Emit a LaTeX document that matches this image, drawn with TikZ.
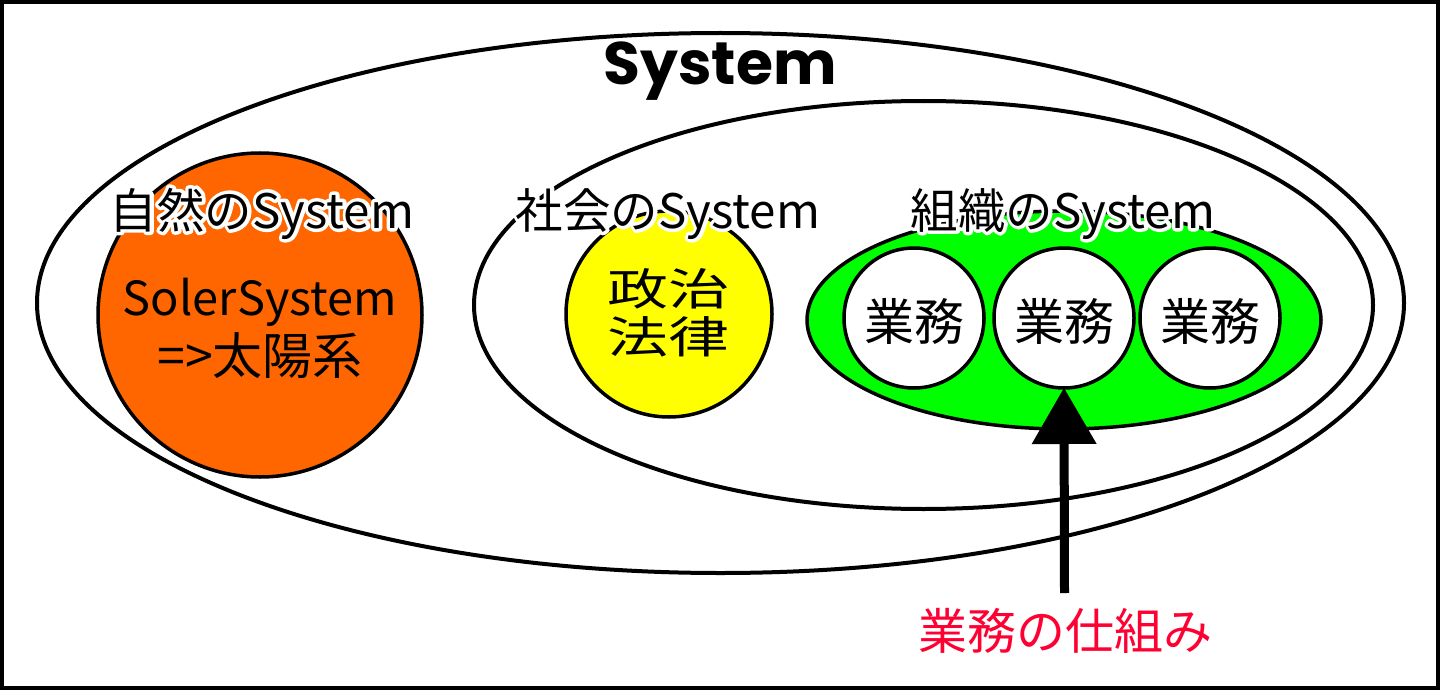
\documentclass[tikz,border=0pt]{standalone}
\usepackage{fontspec}
\setmainfont{Noto Sans CJK JP}
\newfontfamily\titlefont{Poppins}
\usetikzlibrary{shapes.geometric,arrows.meta}
\definecolor{sysorange}{RGB}{255,102,0}
\definecolor{sysyellow}{RGB}{255,255,0}
\definecolor{sysgreen}{RGB}{0,255,0}
\definecolor{sysred}{RGB}{255,0,51}
% white outline behind a one-line text: stroke-only copy in white, then the text
\newcommand\halotext[1]{\leavevmode\rlap{\special{pdf:literal direct 1 Tr 1 1 1 RG 7 w 1 j}#1\special{pdf:literal direct 0 Tr 0 0 0 RG 0.4 w 0 j}}#1}
\tikzset{
  ring/.style={draw=black, line width=4pt, inner sep=0pt, outer sep=0pt},
  ball/.style={circle, draw=black, line width=3.5pt, inner sep=0pt, outer sep=0pt},
  lab/.style={anchor=base, inner sep=0pt, font=\fontsize{47.5}{54}\selectfont},
  body/.style={anchor=base, inner sep=0pt, font=\fontsize{50}{56}\selectfont},
}
\begin{document}
\begin{tikzpicture}[x=1pt,y=-1pt]
\useasboundingbox (0,0) rectangle (1440,690);
\draw[line width=4pt] (2,2) rectangle (1438,688);
% outer ellipses
\node[ring, ellipse, minimum width=1367pt, minimum height=540pt] (sys) at (720.5,303) {};
\node[ring, ellipse, minimum width=899pt, minimum height=408pt] (soc) at (923.5,305) {};
% nature
\node[ball, fill=sysorange, minimum size=324pt] (nat) at (260,315) {};
% society
\node[ball, fill=sysyellow, minimum size=206pt] (pol) at (669,314) {};
% organisation
\node[ring, ellipse, line width=3.5pt, fill=sysgreen, minimum width=514pt, minimum height=218pt] (org) at (1064,320) {};
\node[ball, fill=white, minimum size=140pt] (b1) at (914,318) {};
\node[ball, fill=white, minimum size=140pt] (b2) at (1064,318) {};
\node[ball, fill=white, minimum size=140pt] (b3) at (1210,318) {};
% texts
\node[anchor=base, inner sep=0pt, font=\titlefont\bfseries\fontsize{60}{66}\selectfont] (title) at (720,85) {System};
\node[lab] (natlab) at (262,228) {\halotext{自然のSystem}};
\node[lab] (soclab) at (668,228) {\halotext{社会のSystem}};
\node[lab] (orglab) at (1063,228) {\halotext{組織のSystem}};
\node[body, font=\fontsize{47}{54}\selectfont] (natt1) at (260,315) {SolerSystem};
\node[body] (natt2) at (260,374) {=>太陽系};
\node[body] (polt1) at (668,305) {\scalebox{1.22}[0.88]{政治}};
\node[body] (polt2) at (668,353) {\scalebox{1.22}[0.88]{法律}};
\node[body] (w1) at (914,340) {業務};
\node[body] (w2) at (1064,340) {業務};
\node[body] (w3) at (1210,340) {業務};
\node[anchor=base, inner sep=0pt, text=sysred, font=\fontsize{49}{55}\selectfont] (mech) at (1065,649) {業務の仕組み};
% arrow
\coordinate (astart) at (1064.5,593);
\draw[line width=9pt, -{Triangle[width=65pt, length=56pt, line width=0pt]}] (astart) -- (b2.south);
\end{tikzpicture}
\end{document}
